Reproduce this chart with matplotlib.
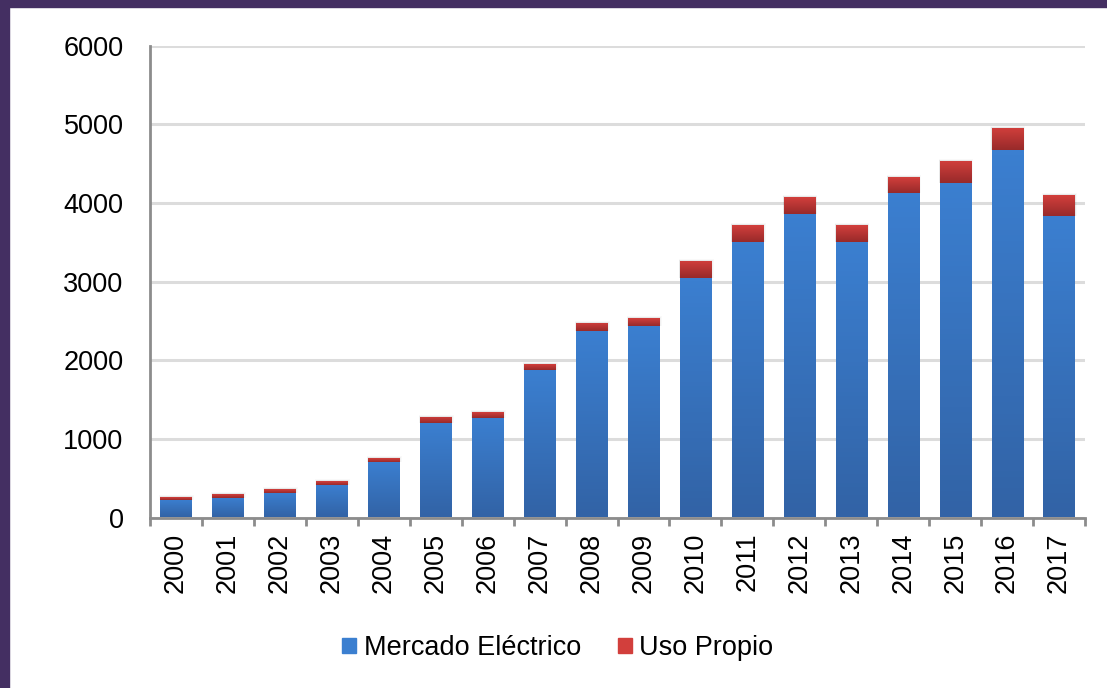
import matplotlib
matplotlib.use("Agg")
import matplotlib.pyplot as plt
import numpy as np
from matplotlib.patches import Rectangle
from matplotlib.colors import LinearSegmentedColormap

plt.rcParams["font.family"] = ["Liberation Sans", "DejaVu Sans"]

years = [str(y) for y in range(2000, 2018)]
mercado = [225, 250, 315, 413, 710, 1200, 1270, 1880, 2370, 2440,
           3045, 3505, 3860, 3505, 4127, 4255, 4675, 3835]
uso = [38, 50, 47, 50, 47, 77, 72, 72, 102, 98,
       217, 215, 216, 215, 203, 280, 280, 267]
y_ticks = [0, 1000, 2000, 3000, 4000, 5000, 6000]

BLUE_TOP, BLUE_BOT = "#3b7fd0", "#3263a6"
RED_TOP, RED_BOT = "#d23f3c", "#982a2a"
FRAME = "#442f62"

fig = plt.figure(figsize=(11.07, 6.88), dpi=100)
fig.patches.append(Rectangle((0, 1 - 7 / 688), 1, 7 / 688, transform=fig.transFigure,
                             color=FRAME, zorder=0))
fig.patches.append(Rectangle((0, 0), 9 / 1107, 1, transform=fig.transFigure,
                             color=FRAME, zorder=0))

ax = fig.add_axes([150 / 1107, 1 - 517.5 / 688, 935 / 1107, 471.8 / 688])
x = np.arange(len(years))


def gradient_bars(bars, top, bottom, shadow=True):
    cmap = LinearSegmentedColormap.from_list("g", [bottom, top])
    grad = np.linspace(0, 1, 64).reshape(-1, 1)
    for b in bars:
        b.set_facecolor("none")
        x0, y0, w, h = b.get_x(), b.get_y(), b.get_width(), b.get_height()
        if shadow:
            # soft shadow round the bar
            for k, a in [(1.0, 0.025), (0.65, 0.03), (0.35, 0.035)]:
                ax.add_patch(Rectangle((x0 - 0.02 * k, y0), w + 0.07 * k, h + 25 * k,
                                       color="#000000", alpha=a, lw=0, zorder=1.5))
        im = ax.imshow(grad, cmap=cmap, aspect="auto", origin="lower",
                       extent=(x0, x0 + w, y0, y0 + h), zorder=2)
        im.set_clip_path(b)


b1 = ax.bar(x, mercado, width=0.6, zorder=2, label="Mercado Eléctrico", linewidth=0)
b2 = ax.bar(x, uso, bottom=mercado, width=0.6, zorder=2, label="Uso Propio", linewidth=0)
gradient_bars(b2, RED_TOP, RED_BOT)
gradient_bars(b1, BLUE_TOP, BLUE_BOT, shadow=False)

ax.set_xlim(-0.5, len(years) - 0.5)
ax.set_ylim(0, 6000)
ax.set_yticks(y_ticks)
ax.set_yticklabels([str(v) for v in y_ticks], fontsize=19.5)
ax.tick_params(axis="y", length=0, pad=19)
ax.set_xticks(x)
ax.set_xticklabels(years, rotation=90, fontsize=19.5)
ax.tick_params(axis="x", length=0, pad=11)
ax.set_xticks(np.arange(-0.5, len(years)), minor=True)
ax.tick_params(axis="x", which="minor", length=6, width=2, color="#8c8c8c")

ax.grid(axis="y", color="#dcdcdc", linewidth=2.2, zorder=0)
ax.set_axisbelow(True)
for s in ["top", "right"]:
    ax.spines[s].set_visible(False)
for s in ["left", "bottom"]:
    ax.spines[s].set_color("#8c8c8c")
    ax.spines[s].set_linewidth(2)
    ax.spines[s].set_zorder(3)

handles = [Rectangle((0, 0), 1, 1, color=BLUE_TOP), Rectangle((0, 0), 1, 1, color=RED_TOP)]
fig.legend(handles, ["Mercado Eléctrico", "Uso Propio"], loc="center",
           bbox_to_anchor=(0.504, 1 - 648 / 688), ncol=2, frameon=False,
           fontsize=19.5, handlelength=0.52, handleheight=0.52, handletextpad=0.28,
           columnspacing=1.35)

fig.savefig("out.png", dpi=100, facecolor="white")
